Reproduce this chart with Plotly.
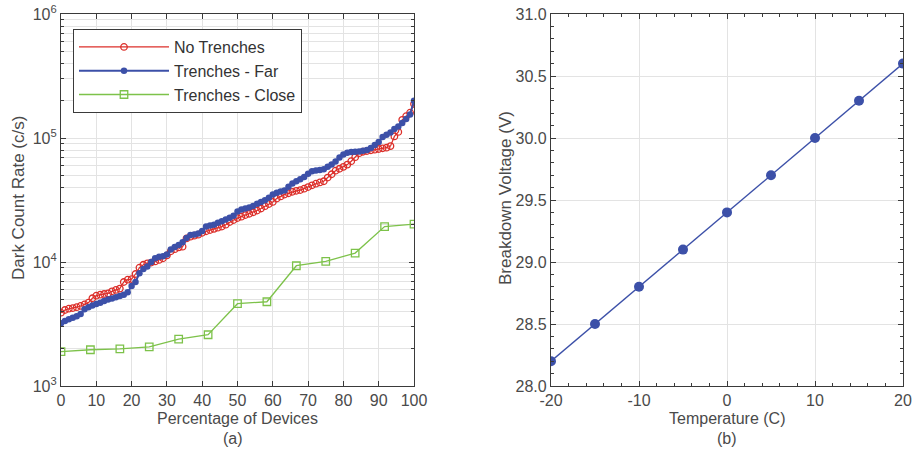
import plotly.graph_objects as go

# ---------------- data ----------------
n_dev = 91
pct = [i * 100.0 / (n_dev - 1) for i in range(n_dev)]

no_trenches = [3900, 4100, 4200, 4250, 4320, 4420, 4550, 4700, 5100, 5350,
               5450, 5520, 5580, 5800, 5950, 6100, 6900, 7200, 7280, 8000,
               9000, 9500, 9750, 9900, 10100, 10400, 10700, 11300, 12200, 12700,
               13100, 13300, 15500, 16000, 16300, 16600, 17200, 17700, 18100, 18500,
               18900, 19300, 20000, 21000, 21800, 22600, 23200, 23900, 24500, 25200,
               26000, 27000, 28200, 29300, 30500, 32500, 33800, 35000, 35800, 36800,
               37500, 38000, 39000, 40200, 41500, 42800, 43800, 44800, 48000, 51000,
               54500, 56500, 58500, 61000, 65000, 70000, 75500, 77500, 78500, 79500,
               80500, 81500, 82500, 83500, 86000, 103000, 112000, 140000, 150000, 160000,
               188000]

trenches_far = [3200, 3350, 3450, 3550, 3650, 3800, 4150, 4320, 4450, 4580,
                4700, 4850, 4980, 5080, 5200, 5320, 5450, 5700, 6400, 6900,
                8100, 8800, 9200, 10000, 10700, 11000, 11150, 11500, 12600, 13200,
                13700, 14400, 15600, 16500, 16700, 17000, 17800, 19300, 19700, 20000,
                20700, 21300, 22000, 22700, 23600, 25500, 26500, 27000, 27500, 28300,
                29500, 30500, 31500, 33000, 35000, 36200, 37000, 37800, 40500, 43000,
                44800, 46500, 48500, 51500, 54000, 54800, 55300, 56000, 58500, 61000,
                64500, 69500, 73500, 76000, 77000, 77500, 78000, 78800, 80000, 83000,
                88000, 93000, 102000, 106000, 111000, 118000, 124000, 132000, 142000, 155000,
                200000]

close_pct = [0, 8.33, 16.67, 25, 33.33, 41.67, 50, 58.33, 66.67, 75, 83.33, 91.67, 100]
trenches_close = [1890, 1960, 1990, 2070, 2390, 2590, 4610, 4780, 9330, 10100, 11800, 19300, 20200]

temps = [-20, -15, -10, -5, 0, 5, 10, 15, 20]
vbd = [28.2, 28.5, 28.8, 29.1, 29.4, 29.7, 30.0, 30.3, 30.6]

x1_ticks = list(range(0, 101, 10))
y1_ticks = [1e3, 1e4, 1e5, 1e6]
y1_labels = ["10<sup>3</sup>", "10<sup>4</sup>", "10<sup>5</sup>", "10<sup>6</sup>"]
x2_ticks = [-20, -10, 0, 10, 20]
x2_labels = ["-20", "-10", "0", "10", "20"]
y2_ticks = [28.0, 28.5, 29.0, 29.5, 30.0, 30.5, 31.0]
y2_labels = ["28.0", "28.5", "29.0", "29.5", "30.0", "30.5", "31.0"]

# ---------------- styling ----------------
W, H = 912, 454
FONT = "Liberation Sans, Arial, sans-serif"
TXT = "#4a4a4a"
AX = "#3a3a3a"
GRID = "#e3e3e3"
RED = "#dc2f2a"
BLUE = "#3c50a8"
GREEN = "#7dc24a"

def px_x(p):
    return p / W

def px_y(p):
    return 1 - p / H

fig = go.Figure()

fig.add_trace(go.Scatter(x=pct, y=no_trenches, name="No Trenches", mode="lines+markers",
                         line=dict(color=RED, width=1.2),
                         marker=dict(symbol="circle-open", size=6.5, color=RED, line=dict(width=1.3)),
                         xaxis="x", yaxis="y"))
fig.add_trace(go.Scatter(x=pct, y=trenches_far, name="Trenches - Far", mode="lines+markers",
                         line=dict(color=BLUE, width=2),
                         marker=dict(symbol="circle", size=6.5, color=BLUE),
                         xaxis="x", yaxis="y"))
fig.add_trace(go.Scatter(x=close_pct, y=trenches_close, name="Trenches - Close", mode="lines+markers",
                         line=dict(color=GREEN, width=1.3),
                         marker=dict(symbol="square-open", size=7.5, color=GREEN, line=dict(width=1.3)),
                         xaxis="x", yaxis="y"))
fig.add_trace(go.Scatter(x=temps, y=vbd, name="Vbd", mode="lines+markers",
                         line=dict(color=BLUE, width=1.4),
                         marker=dict(symbol="circle", size=10, color=BLUE),
                         showlegend=False, xaxis="x2", yaxis="y2"))

y_dom = [px_y(386), px_y(14)]
tickfont = dict(family=FONT, size=16, color=TXT)

log_minor = [m * 10 ** e for e in (3, 4, 5) for m in range(2, 10)]

common = dict(showline=True, linecolor=AX, linewidth=1.2, mirror="ticks",
              ticks="inside", tickcolor=AX, ticklen=5, tickwidth=1,
              showgrid=True, gridcolor=GRID, gridwidth=1, zeroline=False,
              tickfont=tickfont, automargin=False)

fig.update_layout(
    width=W, height=H,
    margin=dict(l=0, r=0, t=0, b=0),
    paper_bgcolor="white", plot_bgcolor="white",
    font=dict(family=FONT, color=TXT),
    xaxis=dict(domain=[px_x(61), px_x(414)], range=[0, 100], anchor="y",
               tickvals=x1_ticks,
               **common),
    yaxis=dict(domain=y_dom, type="log", range=[3, 6], anchor="x",
               tickvals=y1_ticks, ticktext=y1_labels,
               minor=dict(tickvals=log_minor, ticks="inside", ticklen=3, tickcolor=AX,
                          showgrid=True, gridcolor=GRID, gridwidth=1),
               **common),
    xaxis2=dict(domain=[px_x(551), px_x(903)], range=[-20, 20], anchor="y2",
                tickvals=x2_ticks, ticktext=x2_labels,
                minor=dict(dtick=2, ticks="inside", ticklen=3, tickcolor=AX, showgrid=False),
                **common),
    yaxis2=dict(domain=y_dom, range=[28, 31], anchor="x2",
                tickvals=y2_ticks, ticktext=y2_labels,
                minor=dict(dtick=0.1, ticks="inside", ticklen=3, tickcolor=AX, showgrid=False),
                **common),
    legend=dict(x=px_x(73), y=px_y(29), xanchor="left", yanchor="top",
                bgcolor="white", bordercolor=AX, borderwidth=1,
                font=dict(family=FONT, size=16, color="#333333"),
                itemwidth=90, tracegroupgap=0),
    showlegend=True,
)

ann = [
    dict(text="Dark Count Rate (c/s)", x=px_x(18), y=px_y(198), textangle=-90, size=17),
    dict(text="Percentage of Devices", x=px_x(237), y=px_y(418), size=16),
    dict(text="(a)", x=px_x(233), y=px_y(438), size=16),
    dict(text="Breakdown Voltage (V)", x=px_x(505), y=px_y(198), textangle=-90, size=17),
    dict(text="Temperature (C)", x=px_x(727), y=px_y(418), size=16),
    dict(text="(b)", x=px_x(727), y=px_y(438), size=16),
]
for a in ann:
    size = a.pop("size")
    fig.add_annotation(xref="paper", yref="paper", showarrow=False,
                       xanchor="center", yanchor="middle",
                       font=dict(family=FONT, size=size, color=TXT), **a)

fig.write_html("out.html")
